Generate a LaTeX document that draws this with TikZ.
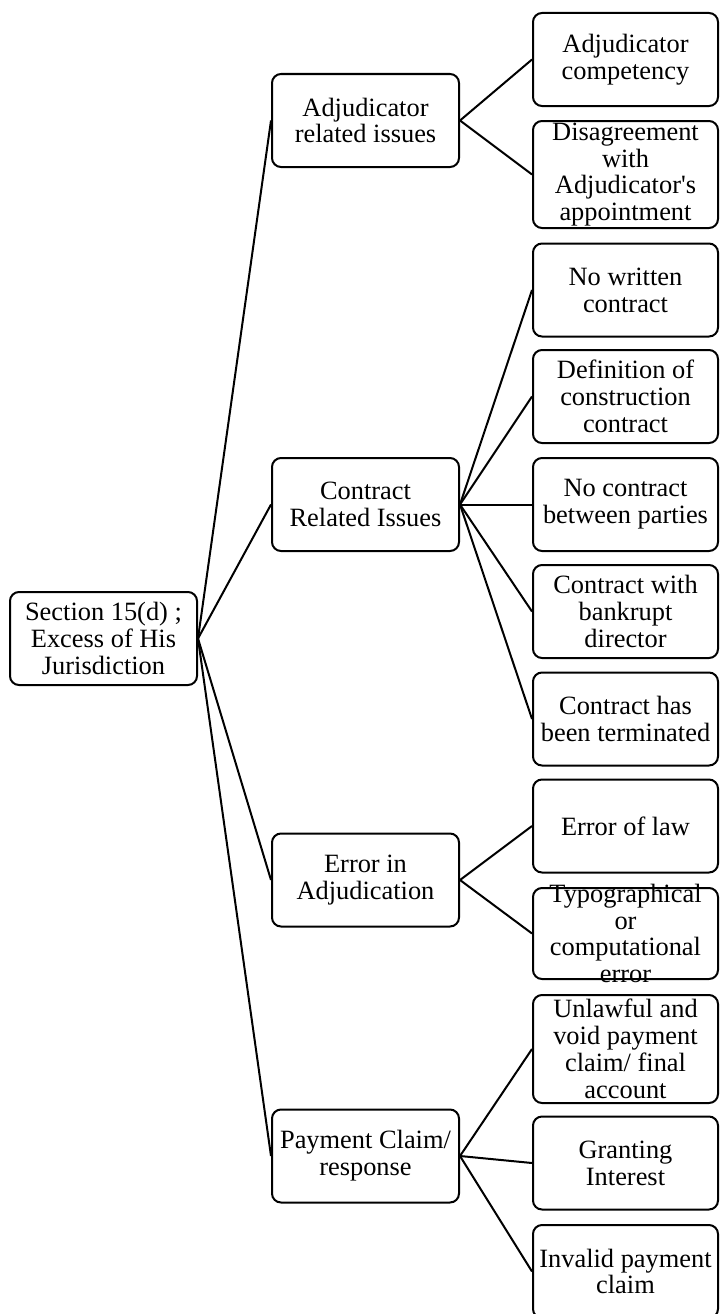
\documentclass[tikz,border=0pt]{standalone}
\usepackage{fontspec}
\setmainfont[Ligatures=TeXOff]{Liberation Serif}
\newcommand\boxfont{\fontsize{26.4}{26.8}\selectfont}
\tikzset{
  box/.style={draw, line width=2pt, rounded corners=9pt, inner sep=0pt, minimum height=93pt},
  lone/.style={box, minimum width=187pt},
  ltwo/.style={box, minimum width=185pt},
  txt/.style={align=center, font=\boxfont, inner sep=0pt},
  conn/.style={line width=2pt}
}
\begin{document}
\begin{tikzpicture}[x=1pt,y=-1pt]
\useasboundingbox (0,0) rectangle (720,1314);
% root
\node[lone] (root) at (103.5,638.5) {};
\node[txt] (roott) at (root) {Section 15(d) ;\\Excess of His\\Jurisdiction};
% level 1
\node[lone] (a) at (365.5,120.5) {};
\node[txt] (at) at (a) {Adjudicator\\related issues};
\node[lone] (b) at (365.5,504.5) {};
\node[txt] (bt) at (b) {Contract\\Related Issues};
\node[lone] (c) at (365.5,880) {};
\node[txt] (ct) at (c) {Error in\\Adjudication};
\node[lone] (d) at (365.5,1156) {};
\node[txt] (dt) at (d) {Payment Claim/\\response};
% level 2
\node[ltwo] (a1) at (625.5,59.5) {};
\node[txt] (a1t) at (a1) {Adjudicator\\competency};
\node[ltwo, minimum height=107pt] (a2) at (625.5,174.5) {};
\node[txt] (a2t) at (a2) {Disagreement\\with\\Adjudicator's\\appointment};
\node[ltwo] (b1) at (625.5,290) {};
\node[txt] (b1t) at (b1) {No written\\contract};
\node[ltwo] (b2) at (625.5,396.5) {};
\node[txt] (b2t) at (b2) {Definition of\\construction\\contract};
\node[ltwo] (b3) at (625.5,504.5) {};
\node[txt] (b3t) at (b3) {No contract\\between parties};
\node[ltwo] (b4) at (625.5,611.5) {};
\node[txt] (b4t) at (b4) {Contract with\\bankrupt\\director};
\node[ltwo] (b5) at (625.5,719) {};
\node[txt] (b5t) at (b5) {Contract has\\been terminated};
\node[ltwo] (c1) at (625.5,826) {};
\node[txt] (c1t) at (c1) {Error of law};
\node[ltwo, minimum height=91pt] (c2) at (625.5,933.5) {};
\node[txt] (c2t) at (c2) {Typographical\\or\\computational\\error};
\node[ltwo, minimum height=108pt] (d1) at (625.5,1049) {};
\node[txt] (d1t) at (d1) {Unlawful and\\void payment\\claim/ final\\account};
\node[ltwo] (d2) at (625.5,1163) {};
\node[txt] (d2t) at (d2) {Granting\\Interest};
\node[ltwo] (d3) at (625.5,1271.5) {};
\node[txt] (d3t) at (d3) {Invalid payment\\claim};
% connectors
\foreach \n in {a,b,c,d} \draw[conn] (root.east) -- (\n.west);
\foreach \n in {a1,a2} \draw[conn] (a.east) -- (\n.west);
\foreach \n in {b1,b2,b3,b4,b5} \draw[conn] (b.east) -- (\n.west);
\foreach \n in {c1,c2} \draw[conn] (c.east) -- (\n.west);
\foreach \n in {d1,d2,d3} \draw[conn] (d.east) -- (\n.west);
\end{tikzpicture}
\end{document}
